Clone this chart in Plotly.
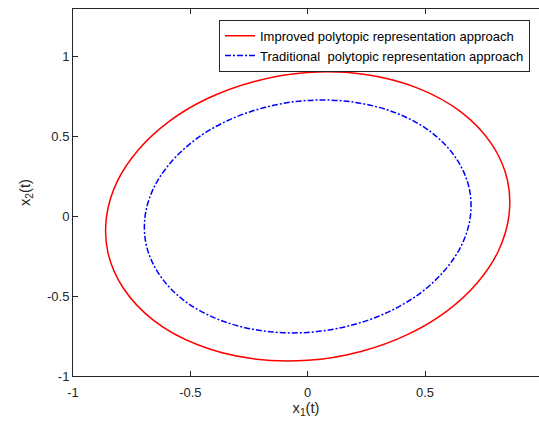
import plotly.graph_objects as go

# Improved polytopic representation approach (red, solid)
red_x = [0.857, 0.851, 0.784, 0.654, 0.466, 0.239, 0.000, -0.227, -0.427, -0.593, -0.722, -0.812,
         -0.857, -0.851, -0.784, -0.654, -0.466, -0.239, 0.000, 0.227, 0.427, 0.593, 0.722, 0.812, 0.857]
red_y = [0.000, 0.228, 0.453, 0.654, 0.806, 0.891, 0.902, 0.846, 0.739, 0.593, 0.417, 0.218,
         0.000, -0.228, -0.453, -0.654, -0.806, -0.891, -0.902, -0.846, -0.739, -0.593, -0.417, -0.218, 0.000]

# Traditional polytopic representation approach (blue, dash-dot)
blue_x = [0.693, 0.687, 0.632, 0.527, 0.375, 0.192, 0.000, -0.183, -0.345, -0.480, -0.584, -0.657,
          -0.693, -0.687, -0.632, -0.527, -0.375, -0.192, 0.000, 0.183, 0.345, 0.480, 0.584, 0.657, 0.693]
blue_y = [0.000, 0.184, 0.365, 0.527, 0.649, 0.717, 0.727, 0.683, 0.598, 0.480, 0.337, 0.176,
          0.000, -0.184, -0.365, -0.527, -0.649, -0.717, -0.727, -0.683, -0.598, -0.480, -0.337, -0.176, 0.000]

series_names = ["Improved polytopic representation approach",
                "Traditional\u00a0 polytopic representation approach"]

x_tickvals = [-1, -0.5, 0, 0.5]
x_ticktext = ["-1", "-0.5", "0", "0.5"]
y_tickvals = [-1, -0.5, 0, 0.5, 1]
y_ticktext = ["-1", "-0.5", "0", "0.5", "1"]

FONT = "Liberation Sans, Arial, Helvetica, sans-serif"
AX = "#262626"

fig = go.Figure()
fig.add_trace(go.Scatter(x=red_x, y=red_y, mode="lines", name=series_names[0],
                         line=dict(color="#FF0000", width=1.5, shape="spline", smoothing=1)))
fig.add_trace(go.Scatter(x=blue_x, y=blue_y, mode="lines", name=series_names[1],
                         line=dict(color="#0000FF", width=1.5, shape="spline", smoothing=1,
                                   dash="6px,2px,2px,2px")))

fig.update_layout(
    width=539, height=425,
    margin=dict(l=73, r=0, t=9, b=49),
    paper_bgcolor="white", plot_bgcolor="white",
    font=dict(family=FONT, size=13, color=AX),
    showlegend=True,
    legend=dict(x=0.9807, y=0.9708, xanchor="right", yanchor="top",
                bgcolor="white", bordercolor=AX, borderwidth=1,
                font=dict(size=13, color="#000000"), tracegroupgap=0),
    hovermode=False,
)
fig.update_xaxes(range=[-1, 0.9855], tickvals=x_tickvals, ticktext=x_ticktext,
                 showgrid=False, zeroline=False, showline=True, linecolor=AX, linewidth=1,
                 mirror="ticks", ticks="inside", ticklen=5, tickcolor=AX, ticklabelstandoff=4,
                 title=dict(text="x<sub>1</sub>(t)", font=dict(size=14.7), standoff=2))
fig.update_yaxes(range=[-1, 1.3], tickvals=y_tickvals, ticktext=y_ticktext,
                 showgrid=False, zeroline=False, showline=True, linecolor=AX, linewidth=1,
                 mirror=False, ticks="inside", ticklen=5, tickcolor=AX,
                 title=dict(text="x<sub>2</sub>(t)", font=dict(size=14.7), standoff=12))

fig.write_html("out.html")
